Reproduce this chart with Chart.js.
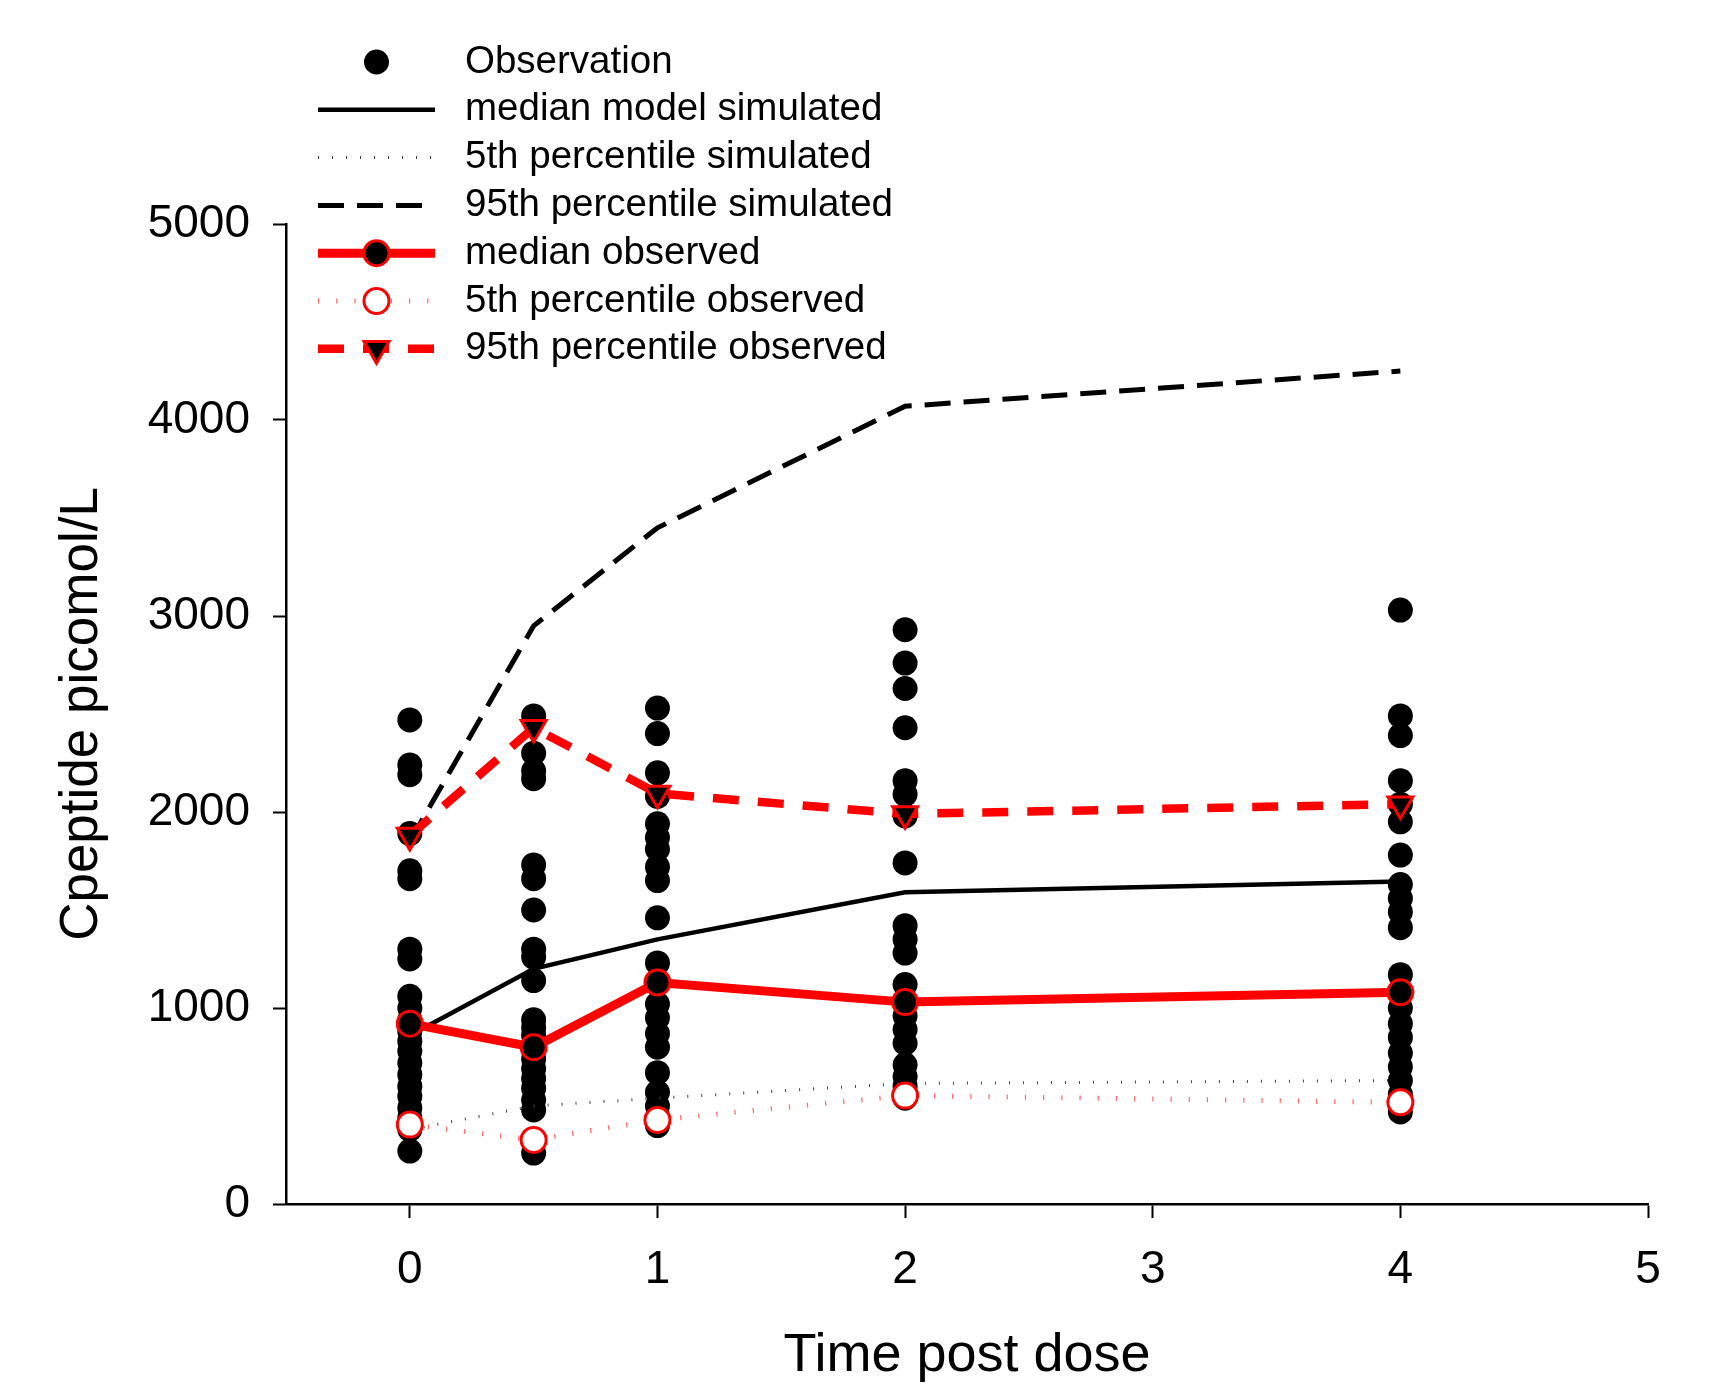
<!DOCTYPE html>
<html>
<head>
<meta charset="utf-8">
<title>Cpeptide VPC</title>
<script src="https://cdn.jsdelivr.net/npm/chart.js@4.4.1/dist/chart.umd.min.js"></script>
<style>
  html, body { margin: 0; padding: 0; background: #fff; }
</style>
</head>
<body>
<canvas id="vpc" width="1733" height="1385"></canvas>
<script>
const FONT = "'Liberation Sans', Arial, sans-serif";

const times = [0, 0.5, 1, 2, 4];
const xTicks = [0, 1, 2, 3, 4, 5];
const yTicks = [0, 1000, 2000, 3000, 4000, 5000];

// observed Cpeptide per sampling time
const obsT0 = [2470, 2240, 2190, 1890, 1700, 1660, 1300, 1250, 1060, 1000, 940, 880, 830, 780, 720, 660, 600, 550, 490, 440, 380, 270];
const obsT05 = [2490, 2300, 2210, 2170, 1730, 1660, 1500, 1300, 1260, 1140, 940, 900, 860, 800, 740, 690, 640, 590, 530, 480, 260];
const obsT1 = [2530, 2400, 2200, 2080, 1940, 1870, 1810, 1720, 1650, 1460, 1230, 1130, 1020, 950, 870, 800, 670, 570, 500, 430, 400];
const obsT2 = [2930, 2760, 2630, 2430, 2160, 2090, 1980, 1740, 1420, 1350, 1280, 1120, 1040, 960, 890, 820, 710, 650, 600, 540];
const obsT4 = [3030, 2490, 2390, 2160, 2040, 1950, 1780, 1630, 1560, 1490, 1410, 1170, 1080, 1000, 920, 850, 770, 700, 630, 560, 470];

// simulated percentiles
const simMedian = [860, 1200, 1350, 1590, 1645];
const simP5 = [380, 500, 540, 615, 630];
const simP95 = [1850, 2950, 3450, 4070, 4250];

// observed percentiles
const obsMedian = [920, 800, 1130, 1030, 1080];
const obsP5 = [405, 327, 429, 553, 519];
const obsP95 = [1880, 2430, 2095, 1990, 2040];

const obsByTime = [obsT0, obsT05, obsT1, obsT2, obsT4];
const obsPoints = [];
obsByTime.forEach((vals, i) => vals.forEach(v => obsPoints.push({x: times[i], y: v})));

const toXY = arr => arr.map((v, i) => ({x: times[i], y: v}));

function drawMarker(ctx, ds, x, y) {
    const r = ds.pointRadius;
    ctx.save();
    ctx.setLineDash([]);
    ctx.fillStyle = ds.pointBackgroundColor;
    ctx.strokeStyle = ds.pointBorderColor;
    ctx.lineWidth = ds.pointBorderWidth;
    ctx.beginPath();
    if (ds.pointStyle === 'triangle') {
        const s = Math.sin(Math.PI / 3) * r;
        ctx.moveTo(x, y + r);
        ctx.lineTo(x - s, y - r / 2);
        ctx.lineTo(x + s, y - r / 2);
        ctx.closePath();
    } else {
        ctx.arc(x, y, r, 0, Math.PI * 2);
    }
    ctx.fill();
    if (ds.pointBorderWidth > 0) ctx.stroke();
    ctx.restore();
}

// legend drawn over the top-left of the plot, one row per series
const legendRows = {
    id: 'legendRows',
    afterDraw(chart) {
        const ctx = chart.ctx;
        const x0 = 318, x1 = 435, xm = 376.5, xt = 465;
        chart.data.datasets.forEach((ds, i) => {
            const y = 62 + i * 47.8;
            ctx.save();
            if (ds.showLine) {
                ctx.beginPath();
                ctx.setLineDash(ds.borderDash || []);
                ctx.lineWidth = ds.borderWidth;
                ctx.strokeStyle = ds.borderColor;
                ctx.moveTo(x0, y);
                ctx.lineTo(x1, y);
                ctx.stroke();
            }
            if (ds.pointRadius > 0) drawMarker(ctx, ds, xm, y);
            ctx.fillStyle = '#000';
            ctx.font = '38.5px ' + FONT;
            ctx.textBaseline = 'middle';
            ctx.textAlign = 'left';
            ctx.fillText(ds.label, xt, y);
            ctx.restore();
        });
    }
};

const ctx = document.getElementById('vpc').getContext('2d');
const vpcChart = new Chart(ctx, {
    type: 'scatter',
    data: {
        datasets: [{
            label: 'Observation',
            data: obsPoints,
            showLine: false,
            pointRadius: 12.5,
            pointStyle: 'circle',
            pointBackgroundColor: '#000',
            pointBorderColor: '#000',
            pointBorderWidth: 0,
            order: 10
        }, {
            label: 'median model simulated',
            data: toXY(simMedian),
            showLine: true,
            borderColor: '#000',
            borderWidth: 4.5,
            pointRadius: 0,
            order: 6
        }, {
            label: '5th percentile simulated',
            data: toXY(simP5),
            showLine: true,
            borderColor: '#444',
            borderWidth: 3,
            borderDash: [1, 13],
            pointRadius: 0,
            order: 7
        }, {
            label: '95th percentile simulated',
            data: toXY(simP95),
            showLine: true,
            borderColor: '#000',
            borderWidth: 5,
            borderDash: [26, 13],
            pointRadius: 0,
            order: 5
        }, {
            label: 'median observed',
            data: toXY(obsMedian),
            showLine: true,
            borderColor: '#ff0000',
            borderWidth: 9,
            pointRadius: 12.5,
            pointStyle: 'circle',
            pointBackgroundColor: '#000',
            pointBorderColor: '#ff0000',
            pointBorderWidth: 3,
            order: 2
        }, {
            label: '5th percentile observed',
            data: toXY(obsP5),
            showLine: true,
            borderColor: 'rgba(255, 0, 0, 0.6)',
            borderWidth: 5,
            borderDash: [1.2, 17],
            pointRadius: 12.5,
            pointStyle: 'circle',
            pointBackgroundColor: '#fff',
            pointBorderColor: '#ff0000',
            pointBorderWidth: 3,
            order: 3
        }, {
            label: '95th percentile observed',
            data: toXY(obsP95),
            showLine: true,
            borderColor: '#ff0000',
            borderWidth: 8.5,
            borderDash: [26, 19],
            pointRadius: 14.4,
            pointStyle: 'triangle',
            pointRotation: 180,
            pointBackgroundColor: '#000',
            pointBorderColor: '#ff0000',
            pointBorderWidth: 3,
            order: 1
        }]
    },
    options: {
        responsive: false,
        animation: false,
        events: [],
        layout: {
            padding: {left: 0, top: 224, right: 85, bottom: 0}
        },
        plugins: {
            legend: {display: false},
            tooltip: {enabled: false}
        },
        elements: {
            line: {tension: 0, borderCapStyle: 'butt'}
        },
        scales: {
            x: {
                type: 'linear',
                min: -0.5,
                max: 5,
                afterBuildTicks: s => { s.ticks = xTicks.map(v => ({value: v})); },
                afterFit: s => { s.height = 181; },
                grid: {drawOnChartArea: false, drawTicks: true, tickLength: 14, tickColor: '#000', tickWidth: 2},
                border: {color: '#000', width: 2.5},
                ticks: {
                    color: '#000',
                    font: {size: 46, family: FONT},
                    padding: 25,
                    maxRotation: 0,
                    callback: v => String(v)
                },
                title: {
                    display: true,
                    text: 'Time post dose',
                    color: '#000',
                    font: {size: 54, family: FONT, lineHeight: 1},
                    padding: {top: 0, bottom: 2}
                }
            },
            y: {
                type: 'linear',
                min: 0,
                max: 5000,
                afterBuildTicks: s => { s.ticks = yTicks.map(v => ({value: v})); },
                afterFit: s => { s.width = 286; },
                grid: {drawOnChartArea: false, drawTicks: true, tickLength: 13, tickColor: '#000', tickWidth: 2},
                border: {color: '#000', width: 2.5},
                ticks: {
                    color: '#000',
                    font: {size: 46, family: FONT},
                    padding: 23,
                    callback: v => String(v)
                },
                title: {
                    display: true,
                    text: 'Cpeptide picomol/L',
                    color: '#000',
                    font: {size: 53, family: FONT, lineHeight: 1},
                    padding: {top: 56, bottom: 0}
                }
            }
        }
    },
    plugins: [legendRows]
});
</script>
</body>
</html>
